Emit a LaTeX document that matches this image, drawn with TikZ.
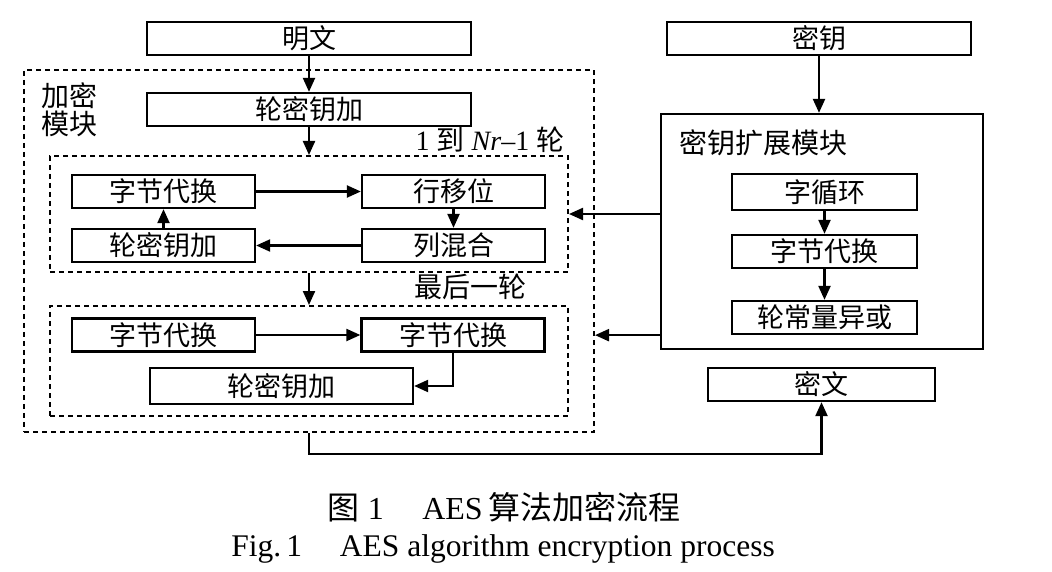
\documentclass[tikz,border=0pt]{standalone}
\usepackage{fontspec}
\setmainfont{Liberation Serif}
\newfontfamily\cjk{Noto Sans CJK SC}
\usetikzlibrary{arrows.meta}
\begin{document}
\begin{tikzpicture}[x=1pt,y=-1pt,
  box/.style={draw, line width=2.3pt, inner sep=0pt, font=\cjk\fontsize{27}{30}\selectfont},
  frame/.style={draw, line width=2pt, dash pattern=on 5pt off 4pt, inner sep=0pt},
  lbl/.style={inner sep=0pt, font=\fontsize{28}{28}\selectfont},
  arr/.style={line width=2.2pt, -{Triangle[length=14pt,width=12pt]}}]
\useasboundingbox (0,0) rectangle (1052,572);
\node[box, minimum width=324pt, minimum height=33pt] (plain) at (309,38.5){明文};
\node[box, minimum width=304pt, minimum height=33pt] (key) at (819,38.5){密钥};
\node[frame, minimum width=570pt, minimum height=362pt] (enc) at (309,251){};
\node[lbl, anchor=north west, align=left] (enclbl) at (41,83){\cjk 加密\\\cjk 模块};
\node[box, minimum width=324pt, minimum height=33pt] (ark0) at (309,109.5){轮密钥加};
\node[lbl] (rndlbl) at (490,140){1 {\cjk 到} \textit{Nr}–1 {\cjk 轮}};
\node[frame, minimum width=518pt, minimum height=116pt] (rnd) at (309,214){};
\node[box, minimum width=183pt, minimum height=33pt] (sub1) at (163.5,191.5){字节代换};
\node[box, minimum width=183pt, minimum height=33pt] (shift1) at (453.5,191.5){行移位};
\node[box, minimum width=183pt, minimum height=33pt] (ark1) at (163.5,245.5){轮密钥加};
\node[box, minimum width=183pt, minimum height=33pt] (mix1) at (453.5,245.5){列混合};
\draw[arr](plain) -- (ark0);
\draw[arr](ark0) -- (rnd);
\draw[arr](sub1) -- (shift1);
\draw[arr](shift1) -- (mix1);
\draw[arr](mix1) -- (ark1);
\draw[arr](ark1) -- (sub1);
\node[lbl] (lastlbl) at (470,287){\cjk 最后一轮};
\node[frame, minimum width=518pt, minimum height=110pt] (last) at (309,361){};
\node[box, minimum width=183pt, minimum height=33pt] (sub2) at (163.5,335){字节代换};
\node[box, minimum width=183pt, minimum height=33pt] (sub3) at (453,335){字节代换};
\node[box, minimum width=263pt, minimum height=36pt] (ark2) at (281.5,386){轮密钥加};
\draw[arr](rnd) -- (last);
\draw[arr](sub2) -- (sub3);
\draw[arr](sub3.south) |- (ark2.east);
\node[draw, line width=2.3pt, minimum width=322pt, minimum height=235pt] (kexp) at (822,231.5){};
\node[lbl, anchor=west] (kexplbl) at (679,143){\cjk 密钥扩展模块};
\node[box, minimum width=185pt, minimum height=36pt] (rot) at (824.5,192){字循环};
\node[box, minimum width=185pt, minimum height=33pt] (ksub) at (824.5,251.5){字节代换};
\node[box, minimum width=185pt, minimum height=33pt] (rcon) at (824.5,317.5){轮常量异或};
\node[box, minimum width=227pt, minimum height=33pt] (cipher) at (821.5,384.5){密文};
\draw[arr](key.south) -- (key.south |- kexp.north);
\draw[arr](rot) -- (ksub);
\draw[arr](ksub) -- (rcon);
\draw[arr](kexp.west |- rnd.east) -- (rnd.east);
\draw[arr](kexp.west |- rcon.south) -- (enc.east |- rcon.south);
\draw[arr](enc.south) -- ++(0,21) -| (cipher.south);
% caption
\node[inner sep=0pt, font=\fontsize{32}{32}\selectfont] (cap1) at (504,507){{\cjk 图}~1\hspace{1.2em}AES\,{\cjk 算法加密流程}};
\node[inner sep=0pt, font=\fontsize{31.5}{32}\selectfont] (cap2) at (503,549){Fig.\,1\hspace{1.2em}AES algorithm encryption process};
\end{tikzpicture}
\end{document}
